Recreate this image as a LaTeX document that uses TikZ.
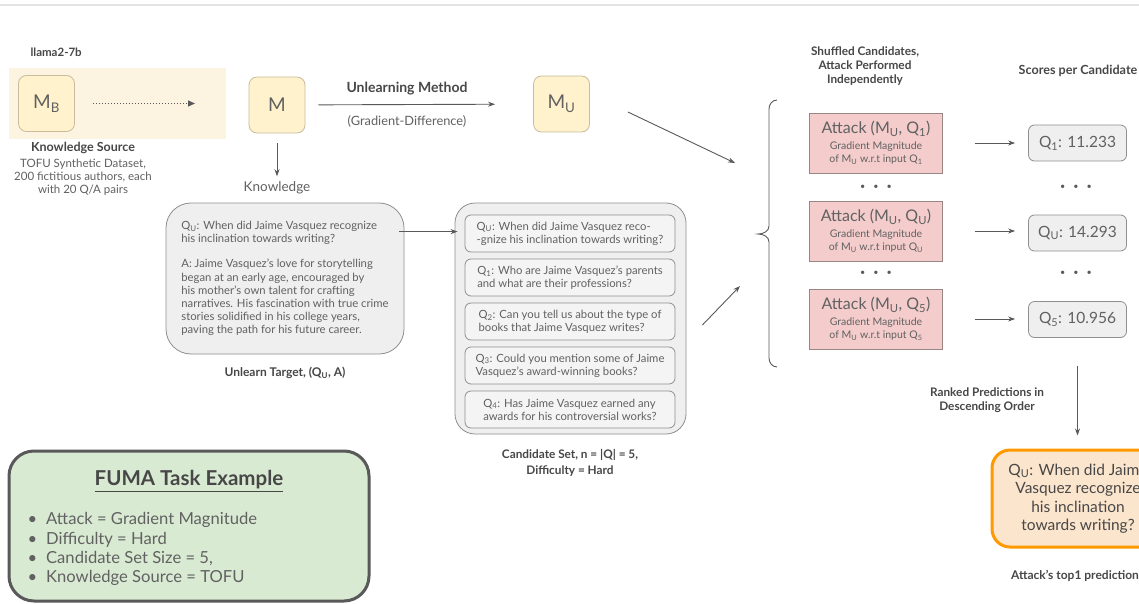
\documentclass[tikz,border=0pt]{standalone}
\usepackage{fontspec}
\setmainfont{Lato}
\usetikzlibrary{arrows.meta,calc}
\definecolor{txt}{HTML}{616161}
\definecolor{lbl}{HTML}{474747}
\definecolor{ln}{HTML}{595959}
\definecolor{yfill}{HTML}{FFF2CC}
\definecolor{ydraw}{HTML}{C9BC9C}
\definecolor{beige}{HTML}{FDF3E1}
\definecolor{gfill}{HTML}{EFEFEF}
\definecolor{qfill}{HTML}{F4F4F4}
\definecolor{gdraw}{HTML}{8F8F8F}
\definecolor{pfill}{HTML}{F4CCCC}
\definecolor{pdraw}{HTML}{9A8585}
\definecolor{grfill}{HTML}{D9EAD3}
\definecolor{grdraw}{HTML}{595959}
\definecolor{ofill}{HTML}{FCE5CD}
\definecolor{odraw}{HTML}{FF9900}
\definecolor{topline}{HTML}{E3E3E3}
\newcommand{\fs}[2]{\fontsize{#1}{#2}\selectfont}
\newcommand{\sbs}[1]{\textsubscript{#1}}
\begin{document}
\begin{tikzpicture}[x=1pt,y=-1pt,text=txt,
  model/.style={draw=ydraw, fill=yfill, rounded corners=8pt, minimum width=56, minimum height=56, font=\fs{19}{22}, line width=0.8pt},
  lab/.style={font=\bfseries\fs{12}{14.5}, text=lbl, align=center},
  arr/.style={draw=ln, line width=0.9pt, -{Stealth[length=7pt,width=5pt]}},
  qbox/.style={draw=gdraw, fill=qfill, rounded corners=6pt, minimum width=210, minimum height=37, align=left, inner sep=0pt, font=\fs{11.3}{13.2}, line width=0.8pt},
  atk/.style={draw=pdraw, fill=pfill, minimum width=133, minimum height=60, align=center, inner sep=0pt, font=\fs{10.5}{13}, line width=0.8pt},
  score/.style={draw=gdraw, fill=gfill, rounded corners=6pt, minimum width=98, minimum height=36, font=\fs{15.5}{18}, line width=0.8pt},
  dots/.style={font=\fs{9}{9}, text=ln}]
\clip (0,0) rectangle (1139,604);
\fill[white] (0,0) rectangle (1139,604);
\draw[topline, line width=1.5pt] (0,5) -- (1139,5);

% left part
\node[anchor=west, font=\bfseries\fs{11.5}{13}, text=lbl] (llama) at (27,52) {llama2-7b};
\node[fill=beige, minimum width=217, minimum height=71, inner sep=0pt] (bg) at (117.5,103.5) {};
\node[model] (mb) at (46.5,103.5) {M\sbs{B}};
\coordinate (dotend) at (195,103.5);
\draw[ln, line width=1pt, dotted, -{Triangle[length=7pt,width=6pt]}] ($(mb.east)+(18,0)$) -- (dotend);
\node[font=\bfseries\fs{12.5}{13}, text=lbl] (ks) at (83,148) {Knowledge Source};
\node[font=\fs{11.5}{13}, align=center, anchor=north] (ksd) at (83,155) {TOFU Synthetic Dataset,\\200 fictitious authors, each\\with 20 Q/A pairs};

\node[model] (m) at (277,105) {M};
\node[font=\fs{13.5}{16}] (know) at (277,188) {Knowledge};
\draw[arr] ($(m.south)+(0,10)$) -- ($(know.north)+(0,-2)$);

\node[model] (mu) at (561.5,104) {M\sbs{U}};
\draw[arr, shorten <=13pt, shorten >=38pt] (m) -- (mu);
\node[font=\bfseries\fs{14}{15}, text=lbl] (ulm) at (407,89) {Unlearning Method};
\node[font=\fs{12.8}{15}] (gd) at (407,121) {(Gradient-Difference)};

% unlearn target
\node[draw=gdraw, fill=gfill, rounded corners=25pt, minimum width=238, minimum height=151, align=left, font=\fs{11.3}{13.2}, line width=0.8pt] (ut) at (285,278.5)
 {Q\sbs{U}: When did Jaime Vasquez recognize\\his inclination towards writing?\\[12pt]A: Jaime Vasquez’s love for storytelling\\began at an early age, encouraged by\\his mother’s own talent for crafting\\narratives. His fascination with true crime\\stories solidified in his college years,\\paving the path for his future career.};
\node[lab] (utl) at (285,373) {Unlearn Target, (Q\sbs{U}, A)};

% candidate set
\node[draw=gdraw, fill=gfill, rounded corners=20pt, minimum width=231, minimum height=231, line width=0.8pt] (cs) at (570.5,318.5) {};
\node[qbox] (q0) at (570,233.5) {Q\sbs{U}: When did Jaime Vasquez reco-\\-gnize his inclination towards writing?};
\node[qbox] (q1) at (570,277.5) {Q\sbs{1}: Who are Jaime Vasquez’s parents\\and what are their professions?};
\node[qbox] (q2) at (570,321.5) {Q\sbs{2}: Can you tell us about the type of\\books that Jaime Vasquez writes?};
\node[qbox] (q3) at (570,365.5) {Q\sbs{3}: Could you mention some of Jaime\\Vasquez’s award-winning books?};
\node[qbox] (q4) at (570,409.5) {Q\sbs{4}: Has Jaime Vasquez earned any\\awards for his controversial works?};
\node[lab, font=\bfseries\fs{11.8}{16}] (csl) at (570,463) {Candidate Set, n = |Q| = 5,\\Difficulty = Hard};
\draw[arr] ($(ut.north east)+(-5,29)$) -- ($(cs.north west)+(3,29)$);

% brace
\draw[ln, line width=0.9pt] (777,100) to[out=180,in=90] (769,109) -- (769,226) to[out=-90,in=0] (758,234) to[out=0,in=90] (769,242) -- (769,358) to[out=-90,in=180] (777,367);
\coordinate (b1) at (735,163);
\coordinate (b2) at (740,286);
\draw[arr] ($(mu.east)+(38,8)$) -- (b1);
\draw[arr] ($(cs.east)+(16,6.5)$) -- (b2);

% attacks
\node[lab, font=\bfseries\fs{11.8}{14}] (shuf) at (865,66) {Shuffled Candidates,\\Attack Performed\\Independently};
\node[lab, font=\bfseries\fs{12.6}{14}] (spc) at (1078,71) {Scores per Candidate};
\node[atk] (a1) at (876,143) {{\fs{16}{19}Attack (M\sbs{U}, Q\sbs{1})}\\[3pt]Gradient Magnitude\\of M\sbs{U} w.r.t input Q\sbs{1}};
\node[atk] (a2) at (876,231) {{\fs{16}{19}Attack (M\sbs{U}, Q\sbs{U})}\\[3pt]Gradient Magnitude\\of M\sbs{U} w.r.t input Q\sbs{U}};
\node[atk] (a3) at (876,319) {{\fs{16}{19}Attack (M\sbs{U}, Q\sbs{5})}\\[3pt]Gradient Magnitude\\of M\sbs{U} w.r.t input Q\sbs{5}};
\node[dots] (d1) at (876,187) {\textbullet\hspace{8pt}\textbullet\hspace{8pt}\textbullet};
\node[dots] (d2) at (876,273) {\textbullet\hspace{8pt}\textbullet\hspace{8pt}\textbullet};
\node[score] (s1) at (1077.5,143) {Q\sbs{1}: 11.233};
\node[score] (s2) at (1077.5,233) {Q\sbs{U}: 14.293};
\node[score] (s3) at (1077.5,319.5) {Q\sbs{5}: 10.956};
\node[dots] (d3) at (1076,187) {\textbullet\hspace{8pt}\textbullet\hspace{8pt}\textbullet};
\node[dots] (d4) at (1076,273) {\textbullet\hspace{8pt}\textbullet\hspace{8pt}\textbullet};
\draw[arr, shorten <=32pt, shorten >=13pt] (a1.east) -- (s1.west |- a1.east);
\draw[arr, shorten <=32pt, shorten >=13pt] (a2.east) -- (s2.west |- a2.east);
\draw[arr, shorten <=32pt, shorten >=13pt] (a3.east) -- (s3.west |- a3.east);

% result
\node[draw=odraw, fill=ofill, rounded corners=18pt, line width=3pt, minimum width=172, minimum height=97, align=center, font=\fs{15.5}{18.5}, text=lbl] (top) at (1078,498.5) {Q\sbs{U}: When did Jaime\\Vasquez recognize\\his inclination\\towards writing?};
\draw[arr, shorten <=28pt, shorten >=13pt] (s3.south) -- (top.north -| s3.south);
\node[lab, font=\bfseries\fs{11.8}{14}] (rank) at (987,400) {Ranked Predictions in\\Descending Order};
\node[lab] (top1) at (1075,576) {Attack’s top1 prediction};

% FUMA
\node[draw=grdraw, fill=grfill, rounded corners=25pt, line width=3pt, minimum width=360, minimum height=150] (fuma) at (189,526) {};
\node[font=\bfseries\fs{20.5}{22}, text=lbl] (fumat) at (189,481) {\underline{FUMA Task Example}};
\node[anchor=north west, align=left, font=\fs{16.6}{19.3}] (fumal) at (24,509) {\textbullet\hspace{9pt}Attack = Gradient Magnitude\\\textbullet\hspace{9pt}Difficulty = Hard\\\textbullet\hspace{9pt}Candidate Set Size = 5,\\\textbullet\hspace{9pt}Knowledge Source = TOFU};
\end{tikzpicture}
\end{document}
